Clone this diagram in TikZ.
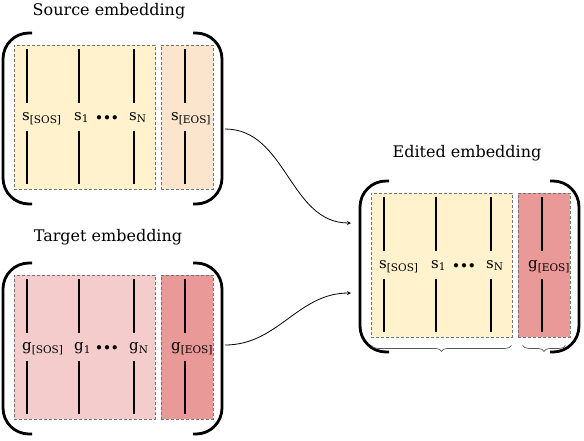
\documentclass[tikz,border=0pt]{standalone}
\usepackage{amsmath}
\usepackage{fontspec}
\setmainfont{DejaVu Serif}
\usetikzlibrary{decorations.pathreplacing}
\definecolor{srcyellow}{HTML}{FFF2CC}
\definecolor{srcpeach}{HTML}{FCE5CD}
\definecolor{tgtpink}{HTML}{F4CCCC}
\definecolor{tgtred}{HTML}{EA9999}
\tikzstyle{embbox} = [draw=black!55, dash pattern=on 3pt off 2pt, line width=0.8pt,
    rectangle, minimum height=144pt, inner sep=0pt]
\tikzstyle{bracket} = [line width=2.8pt, rounded corners=26pt]
\tikzstyle{vline} = [line width=1.8pt]
\tikzstyle{emblabel} = [font=\fontsize{15}{17}\selectfont, inner sep=0pt, anchor=base west]
\tikzstyle{embtitle} = [font=\fontsize{16}{18}\selectfont, inner sep=0pt, anchor=base]
\tikzstyle{underbrace} = [decorate, decoration={brace, mirror, amplitude=6pt},
    draw=black!65, line width=0.7pt]
\tikzstyle{flow} = [-stealth, line width=0.8pt]

\newcommand{\emb}[2]{$\text{#1}_{\text{#2}}$}
\newcommand{\embdots}{${\scriptstyle\bullet}\mkern3mu{\scriptstyle\bullet}\mkern3mu{\scriptstyle\bullet}$}

% one embedding matrix: name, shift, fill of tokens, fill of [EOS], letter, [EOS] letter
\newcommand{\embblock}[6]{%
  \begin{scope}[shift={#2}]
    \node[embbox, fill=#3, minimum width=141pt] (#1-main) at (84.5,117) {};
    \node[embbox, fill=#4, minimum width=52pt] (#1-eos) at (187,117) {};
    \foreach \x in {27,79,134,185}
      \draw[vline] (\x,49) -- (\x,103) (\x,131) -- (\x,184);
    \node[emblabel] (#1-sos) at (22,120) {\emb{#5}{[SOS]}};
    \node[emblabel] (#1-one) at (74,120) {\emb{#5}{1}};
    \node[emblabel, anchor=base] (#1-dots) at (107,120) {\embdots};
    \node[emblabel] (#1-n) at (129,120) {\emb{#5}{N}};
    \node[emblabel] (#1-end) at (171,120) {\emb{#6}{[EOS]}};
    \draw[bracket] (32,33) -- (3,33) -- (3,204) -- (32,204);
    \draw[bracket] (193,33) -- (222,33) -- (222,204) -- (193,204);
  \end{scope}}

\begin{document}
\begin{tikzpicture}[x=1pt, y=-1pt]
    \useasboundingbox (0,0) rectangle (584,440);

    \embblock{src}{(0,0)}{srcyellow}{srcpeach}{s}{s}
    \embblock{tgt}{(0,230)}{tgtpink}{tgtred}{g}{g}
    \embblock{ed}{(357,148)}{srcyellow}{tgtred}{s}{g}

    \node[embtitle] (src-title) at (109,15) {Source embedding};
    \node[embtitle] (tgt-title) at (108,241) {Target embedding};
    \node[embtitle] (ed-title) at (467,157) {Edited embedding};

    \draw[underbrace] ([xshift=1pt, yshift=-8pt]ed-main.south west)
        -- ([xshift=-1pt, yshift=-8pt]ed-main.south east);
    \draw[underbrace] ([xshift=5pt, yshift=-8pt]ed-eos.south west)
        -- ([xshift=-5pt, yshift=-8pt]ed-eos.south east);

    \coordinate (src-out) at (225,129);
    \coordinate (tgt-out) at (225,345);
    \coordinate (ed-in-top) at (351,223);
    \coordinate (ed-in-bot) at (351,293);
    \draw[flow] (src-out) to[out=0, in=180] (ed-in-top);
    \draw[flow] (tgt-out) to[out=0, in=180] (ed-in-bot);
\end{tikzpicture}
\end{document}
